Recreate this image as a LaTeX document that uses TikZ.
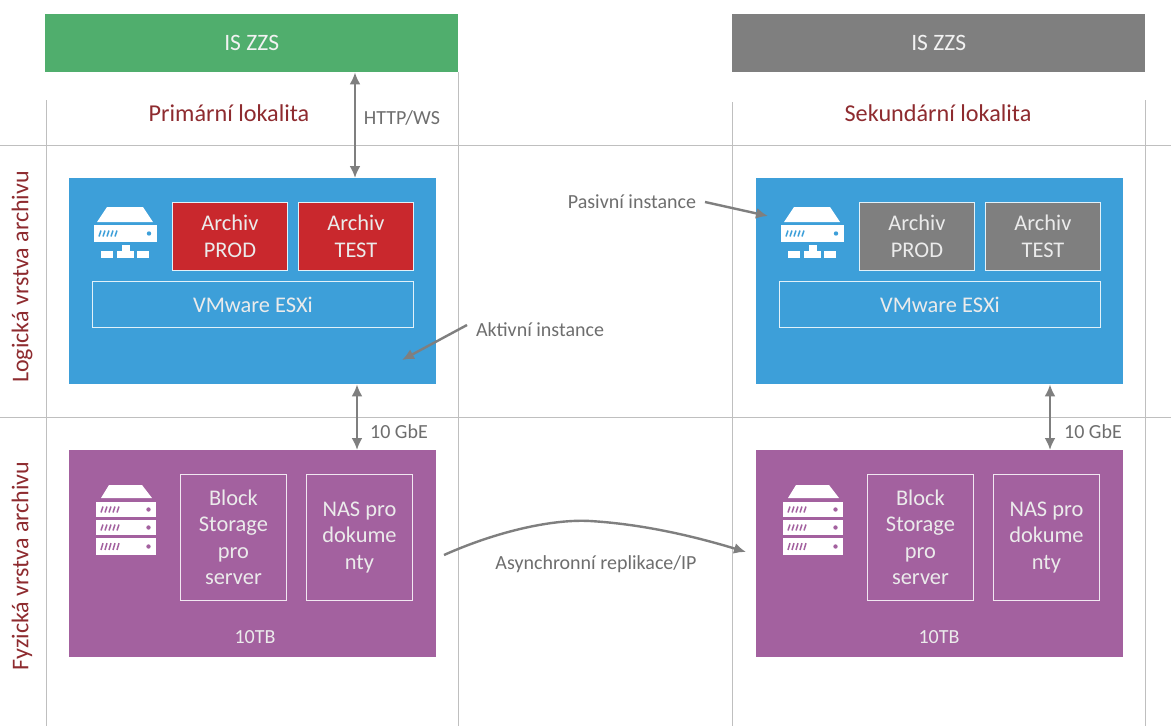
\documentclass[tikz,border=0pt]{standalone}
\usepackage{fontspec}
\setmainfont{Carlito}
\usetikzlibrary{arrows.meta}
\definecolor{cgreen}{HTML}{50AE6D}
\definecolor{cgray}{HTML}{7F7F7F}
\definecolor{cblue}{HTML}{3D9FD9}
\definecolor{cpurple}{HTML}{A3619F}
\definecolor{cred}{HTML}{C9282D}
\definecolor{ctitle}{HTML}{8E2B2F}
\definecolor{cgrid}{HTML}{BFBFBF}
\definecolor{clabel}{HTML}{6E6E6E}
\tikzset{
  pane/.style={draw=none,inner sep=0pt,anchor=north west,align=center},
  inbox/.style={pane,draw=white!85!cblue,line width=0.9pt,text=white!92!black,font=\fontsize{22.4}{26.5}\selectfont},
  hdr/.style={pane,text=white!95!black,font=\fontsize{23.5}{28}\selectfont},
  conn/.style={draw=cgray,line width=2.4pt,-{Latex[length=12pt,width=11pt]}},
  bconn/.style={draw=cgray,line width=2.4pt,{Latex[length=12pt,width=11pt]}-{Latex[length=12pt,width=11pt]}},
  note/.style={text=clabel,inner sep=0pt,font=\fontsize{20}{24}\selectfont},
  ltitle/.style={text=ctitle,inner sep=0pt,font=\fontsize{24.2}{29}\selectfont},
  vtitle/.style={text=ctitle,inner sep=0pt,rotate=90,font=\fontsize{24}{29}\selectfont},
  grid/.style={draw=cgrid,line width=0.8pt}
}
\newcommand{\hosticon}[1]{%
  \begin{scope}[shift={(#1,0)}]
    \fill[white] (107,207) -- (143,207) -- (153,222) -- (97,222) -- cycle;
    \fill[white] (93.5,225) rectangle (157,242);
    \foreach \k in {0,...,4}{\draw[cblue,line width=1.5pt] ({99+\k*4},{236.5}) -- ++(2,-6);}
    \fill[cblue] (149,233.5) circle (2.2);
    \fill[white] (122,245) rectangle (130,251);
    \fill[white] (101,251) rectangle (113,257.5);
    \fill[white] (117,251) rectangle (134,257.5);
    \fill[white] (137,251) rectangle (149,257.5);
  \end{scope}}
\newcommand{\storeicon}[1]{%
  \begin{scope}[shift={(#1,0)}]
    \fill[white] (109,485) -- (142,485) -- (152,498) -- (101,498) -- cycle;
    \foreach \y/\h in {502/15,520/15,538/17}{%
      \fill[white] (96,\y) rectangle (156,\y+\h);
      \foreach \k in {0,...,4}{\draw[cpurple,line width=1.5pt] ({101+\k*4},{\y+\h*0.7}) -- ++(2,{-\h*0.4});}
      \fill[cpurple] (148.5,\y+\h*0.5) circle (2.2);
    }
  \end{scope}}
\begin{document}
\begin{tikzpicture}[x=1pt,y=-1pt]
\useasboundingbox (0,0) rectangle (1171,726);
\fill[white] (0,0) rectangle (1171,726);
% grid
\coordinate (gv1a) at (46,100); \coordinate (gv1b) at (46,726);
\coordinate (gv2a) at (458,72); \coordinate (gv2b) at (458,726);
\coordinate (gv3a) at (732,102); \coordinate (gv3b) at (732,726);
\coordinate (gv4a) at (1145,100); \coordinate (gv4b) at (1145,726);
\coordinate (gh1a) at (0,145); \coordinate (gh1b) at (1171,145);
\coordinate (gh2a) at (0,417); \coordinate (gh2b) at (1171,417);
\draw[grid] (gv1a) -- (gv1b);
\draw[grid] (gv2a) -- (gv2b);
\draw[grid] (gv3a) -- (gv3b);
\draw[grid] (gv4a) -- (gv4b);
\draw[grid] (gh1a) -- (gh1b);
\draw[grid] (gh2a) -- (gh2b);
% headers
\node[hdr,fill=cgreen,minimum width=413pt,minimum height=58pt] (isl) at (45,14) {IS ZZS};
\node[hdr,fill=cgray,minimum width=413pt,minimum height=58pt] (isr) at (732,14) {IS ZZS};
\node[ltitle] (prim) at (229,113.5) {Primární lokalita};
\node[ltitle] (sek) at (938,113.5) {Sekundární lokalita};
\node[vtitle] (vl) at (22,277) {Logická vrstva archivu};
\node[vtitle] (vf) at (22,566) {Fyzická vrstva archivu};
% panels
\node[pane,fill=cblue,minimum width=367pt,minimum height=206pt] (bl) at (69,178) {};
\node[pane,fill=cblue,minimum width=367pt,minimum height=206pt] (br) at (756,178) {};
\node[pane,fill=cpurple,minimum width=367pt,minimum height=207pt] (pl) at (69,450) {};
\node[pane,fill=cpurple,minimum width=367pt,minimum height=207pt] (pr) at (756,450) {};
\hosticon{0}
\hosticon{687}
\storeicon{0}
\storeicon{687}
% archive boxes
\node[inbox,fill=cred,minimum width=115pt,minimum height=68pt] (a1) at (172,202) {Archiv\\PROD};
\node[inbox,fill=cred,minimum width=115pt,minimum height=68pt] (a2) at (298,202) {Archiv\\TEST};
\node[inbox,fill=cgray,minimum width=115pt,minimum height=68pt] (a3) at (859,202) {Archiv\\PROD};
\node[inbox,fill=cgray,minimum width=115pt,minimum height=68pt] (a4) at (985,202) {Archiv\\TEST};
\node[inbox,minimum width=321pt,minimum height=46pt] (v1) at (92,281) {VMware ESXi};
\node[inbox,minimum width=321pt,minimum height=46pt] (v2) at (779,281) {VMware ESXi};
% storage
\node[inbox,draw=white!85!cpurple,minimum width=106pt,minimum height=126pt] (s1) at (180,474) {Block\\Storage\\pro\\server};
\node[inbox,draw=white!85!cpurple,minimum width=106pt,minimum height=126pt] (n1) at (306,474) {NAS pro\\dokume\\nty};
\node[inbox,draw=white!85!cpurple,minimum width=106pt,minimum height=126pt] (s2) at (867,474) {Block\\Storage\\pro\\server};
\node[inbox,draw=white!85!cpurple,minimum width=106pt,minimum height=126pt] (n2) at (993,474) {NAS pro\\dokume\\nty};
\node[inner sep=0pt,text=white!92!black,font=\fontsize{20}{24}\selectfont] (t1) at (255,637) {10TB};
\node[inner sep=0pt,text=white!92!black,font=\fontsize{20}{24}\selectfont] (t2) at (939,637) {10TB};
% notes
\node[note] (http) at (402,118) {HTTP/WS};
\node[note] (g1) at (399,432) {10 GbE};
\node[note] (g2) at (1093,432) {10 GbE};
\node[note] (pas) at (632,202) {Pasivní instance};
\node[note] (akt) at (540,330) {Aktivní instance};
\node[note] (rep) at (596,564) {Asynchronní replikace/IP};
% connectors
\draw[bconn] (isl.south -| 355,0) -- (bl.north -| 355,0);
\draw[bconn] (bl.south -| 357,0) -- (pl.north -| 357,0);
\draw[bconn] (br.south -| 1050,0) -- (pr.north -| 1050,0);
\coordinate (pasS) at (705,202);
\coordinate (pasE) at (768,216);
\coordinate (aktS) at (467,325);
\coordinate (aktE) at (402,360);
\coordinate (repS) at (444,555);
\coordinate (repE) at (746,552);
\draw[conn] (pasS) -- (pasE);
\draw[conn] (aktS) -- (aktE);
\draw[conn] (repS) .. controls (500,530) and (555,519) .. (590,521) .. controls (640,524) and (690,535) .. (repE);
\end{tikzpicture}
\end{document}
